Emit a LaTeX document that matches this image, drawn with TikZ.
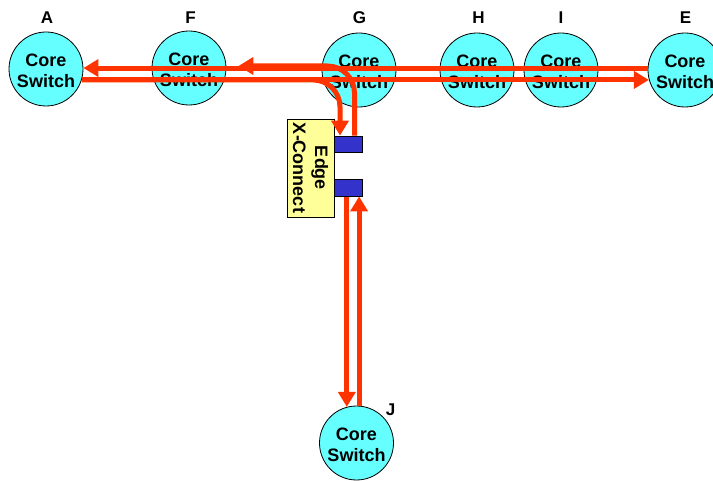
\documentclass[tikz,border=0pt]{standalone}
\usepackage{fontspec}
\setmainfont{Liberation Sans}
\usetikzlibrary{arrows.meta}
\definecolor{swcyan}{RGB}{102,255,255}
\definecolor{boxyellow}{RGB}{255,255,153}
\definecolor{portblue}{RGB}{51,51,204}
\definecolor{linkred}{RGB}{255,51,0}
\begin{document}
\begin{tikzpicture}[x=1pt,y=-1pt,
  switch/.style={circle, draw=black, line width=0.8pt, fill=swcyan,
    minimum size=74pt, inner sep=0pt,
    label={[swtext]center:{Core\\Switch}}},
  swtext/.style={align=center, inner sep=0pt, yshift=-2pt,
    font=\fontsize{18}{21}\selectfont\bfseries},
  tag/.style={font=\fontsize{17}{20}\selectfont\bfseries, anchor=base, inner sep=0pt},
  link/.style={draw=linkred, line width=5pt, -{Triangle[length=15pt,width=17pt]}},
  port/.style={draw=black, line width=0.8pt, fill=portblue,
    minimum width=28pt, minimum height=16pt, inner sep=0pt},
  xconn/.style={draw=black, line width=0.8pt, fill=boxyellow, rotate=-90,
    minimum width=98pt, minimum height=47pt, inner sep=0pt, align=center,
    font=\fontsize{18}{22}\selectfont\bfseries}]
\useasboundingbox (0,0) rectangle (713,481);
\clip (0,0) rectangle (713,481);

% core switches
\node[switch] (A) at (46,69)   {};
\node[switch] (F) at (189,68)  {};
\node[switch] (G) at (359,70)  {};
\node[switch] (H) at (477,70)  {};
\node[switch] (I) at (561,70)  {};
\node[switch] (E) at (685,70)  {};
\node[switch] (J) at (356.5,443) {};

% switch labels
\node[tag] (labA) at (47,24)    {A};
\node[tag] (labF) at (190.5,24) {F};
\node[tag] (labG) at (359.5,24) {G};
\node[tag] (labH) at (478.5,24) {H};
\node[tag] (labI) at (561,24)   {I};
\node[tag] (labE) at (685.5,24) {E};
\node[tag] (labJ) at (390.5,416) {J};

% edge cross-connect with its two ports
\node[xconn] (edge) at (310.5,168) {Edge\\X-Connect};
\node[port] (portU) at (348,144) {};
\node[port, minimum height=17pt] (portL) at (348,187.5) {};

% horizontal ring links
\draw[link] (E.177) -- (E.177 -| A.east);
\draw[link] (A.-17) -- (A.-17 -| E.195);

% links through the edge cross-connect
\draw[link, rounded corners=27pt] (A.-17) -| ([xshift=-8pt]portU.north);
\draw[link, rounded corners=27pt] ([xshift=6.5pt]portU.north) |- ([xshift=12pt,yshift=2pt]F.east);
\draw[link] (portL.south -| J.105) -- (J.105);
\draw[link] (J.86) -- (J.86 |- portL.south);

% ports on top of the link ends
\node[port] at (portU) {};
\node[port, minimum height=17pt] at (portL) {};
\end{tikzpicture}
\end{document}
